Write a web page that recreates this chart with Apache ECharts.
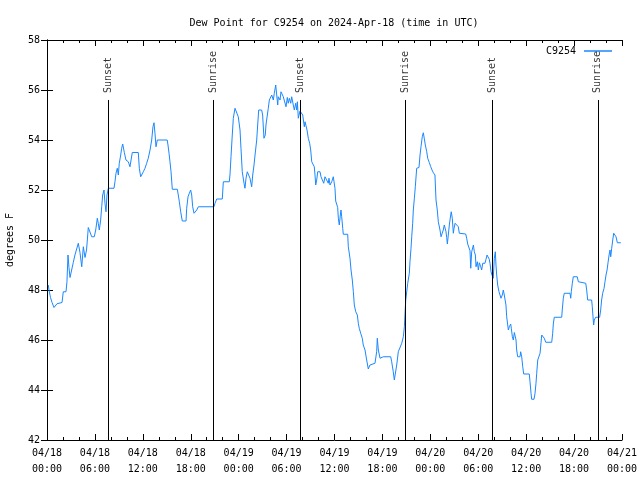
<!DOCTYPE html>
<html>
<head>
<meta charset="utf-8">
<script src="https://cdn.jsdelivr.net/npm/echarts@6/dist/echarts.min.js"></script>
<style>html,body{margin:0;padding:0;background:#fff}#c{width:640px;height:480px}</style>
</head>
<body>
<div id="c"></div>
<script>
// hours since 2024-04-18 00:00 UTC
const hours = [0.16,0.25,0.44,0.63,0.88,1.25,1.5,1.88,2.04,2.38,2.5,2.63,2.75,2.88,3.13,3.29,3.5,3.72,3.92,4.13,4.35,4.55,4.76,4.95,5.1,5.17,5.38,5.6,5.92,6.1,6.3,6.42,6.55,6.72,6.85,6.97,7.14,7.26,7.39,7.51,7.68,8.39,8.51,8.64,8.8,8.93,9.05,9.23,9.35,9.48,9.68,9.89,10.18,10.39,10.52,10.68,11.43,11.56,11.73,11.93,12.06,12.27,12.48,12.68,12.9,13.11,13.27,13.4,13.52,13.65,13.81,15.05,15.15,15.28,15.4,15.53,15.69,16.32,16.44,16.57,16.74,16.94,17.41,17.49,17.66,17.82,17.99,18.12,18.24,18.41,18.62,18.75,18.95,20.91,21.04,21.25,21.95,22.08,22.83,22.92,23.04,23.2,23.33,23.54,23.75,23.95,24.17,24.29,24.45,24.67,24.79,24.92,25.08,25.21,25.42,25.63,25.76,25.92,26.05,26.26,26.38,26.51,26.88,27.0,27.17,27.33,27.42,27.59,27.71,27.84,28.01,28.14,28.34,28.46,28.64,28.76,28.89,28.96,29.18,29.3,29.46,29.59,29.8,29.93,30.09,30.21,30.35,30.52,30.64,30.84,30.97,31.14,31.27,31.35,31.47,31.56,31.68,31.89,32.02,32.22,32.31,32.43,32.56,32.72,32.89,33.02,33.15,33.27,33.47,33.56,33.65,33.77,33.9,33.97,34.19,34.31,34.52,34.65,34.81,35.02,35.22,35.31,35.44,35.65,35.85,35.94,36.06,36.15,36.35,36.4,36.48,36.6,36.73,36.81,36.9,37.03,37.1,37.65,37.73,37.94,38.07,38.23,38.36,38.48,38.66,38.86,38.98,39.1,39.28,39.48,39.6,39.82,40.03,40.23,40.44,40.66,41.07,41.28,41.36,41.49,41.7,41.91,42.11,43.04,43.16,43.36,43.49,43.7,43.79,43.99,44.2,44.42,44.62,44.75,44.83,44.92,45.04,45.17,45.37,45.45,45.58,45.67,45.79,45.87,46.0,46.12,46.29,46.58,46.71,46.83,46.99,47.12,47.24,47.37,47.55,47.67,47.87,48.05,48.21,48.38,48.58,48.71,48.87,49.0,49.21,49.34,49.5,49.62,49.75,49.96,50.05,50.13,50.25,50.38,50.55,50.62,50.75,50.88,50.97,51.1,51.3,51.5,51.63,51.72,52.43,52.55,52.68,52.84,52.97,53.06,53.18,53.39,53.51,53.64,53.72,53.89,54.01,54.14,54.31,54.43,54.56,54.72,54.84,54.97,55.1,55.26,55.38,55.47,55.6,55.72,55.88,56.01,56.14,56.22,56.31,56.43,56.6,56.72,56.85,57.01,57.14,57.26,57.35,57.47,57.56,57.69,57.77,57.89,58.06,58.14,58.27,58.39,58.52,58.6,58.73,58.81,58.94,59.23,59.31,59.44,59.57,59.69,60.39,60.48,60.61,60.69,60.98,61.11,61.23,61.32,61.45,61.7,61.74,61.86,61.95,62.15,62.27,62.45,63.2,63.32,63.4,63.52,64.45,64.52,64.65,64.77,65.49,65.58,65.65,65.78,65.9,66.4,66.53,66.65,67.46,67.58,67.7,68.2,68.28,68.37,68.45,68.53,68.7,69.2,69.33,69.45,69.58,69.75,69.87,70.0,70.13,70.25,70.38,70.5,70.59,70.71,70.84,70.96,71.13,71.25,71.42,71.85];
const dewPoint = [48.2,48.0,47.7,47.5,47.3,47.45,47.5,47.5,47.93,47.93,48.33,49.4,48.9,48.5,48.5,49.1,49.4,49.4,49.87,49.5,48.93,49.73,49.3,49.6,50.2,50.5,50.5,50.13,50.13,50.4,50.87,50.67,50.4,50.8,51.33,51.8,52.0,51.47,51.13,51.8,52.07,52.07,52.33,52.67,52.87,52.6,53.07,53.4,53.67,53.84,53.5,53.2,53.13,52.93,52.87,53.5,53.5,52.87,52.53,52.53,52.73,52.87,53.07,53.27,53.6,54.0,54.53,54.69,54.27,53.73,54.0,54.0,53.8,53.47,53.13,52.73,52.03,52.03,51.8,51.53,51.13,50.76,50.76,51.27,51.73,51.87,52.0,51.8,51.33,51.07,51.07,51.2,51.33,51.33,51.47,51.64,51.64,52.33,52.33,52.64,53.33,54.2,54.87,55.27,55.2,54.93,54.4,53.67,52.73,52.27,52.07,52.47,52.73,52.8,52.47,52.13,52.6,53.0,53.4,54.0,54.6,55.2,55.2,55.0,54.07,54.2,54.6,55.0,55.27,55.6,55.53,55.8,55.6,55.87,56.2,56.27,55.4,55.73,55.6,55.93,55.87,55.73,55.67,55.33,55.7,55.47,55.67,55.47,55.73,55.4,55.2,55.47,55.2,55.53,54.87,55.0,55.16,55.1,55.0,54.53,54.73,54.73,54.4,54.07,53.87,53.6,53.13,53.1,52.93,52.6,52.2,52.4,52.73,52.8,52.73,52.53,52.47,52.27,52.53,52.53,52.27,52.47,52.2,52.33,52.53,52.33,52.07,51.56,51.5,51.3,50.87,50.6,51.0,51.2,50.93,50.47,50.23,50.23,49.73,49.27,48.8,48.4,47.93,47.4,47.13,47.0,46.67,46.47,46.27,46.07,45.8,45.6,45.2,44.84,45.0,45.07,45.07,45.53,46.07,45.6,45.27,45.2,45.33,45.33,45.13,44.73,44.4,44.33,45.0,45.53,45.6,45.87,46.13,46.53,47.07,47.6,47.67,48.27,48.67,49.13,49.67,50.13,50.67,51.2,51.67,52.13,52.87,52.9,53.4,53.73,54.13,54.29,54.07,53.8,53.53,53.27,53.1,52.93,52.8,52.69,52.6,51.6,51.2,50.73,50.4,50.13,50.2,50.4,50.6,50.33,50.1,49.84,50.2,50.6,51.0,51.13,50.87,50.27,50.47,50.67,50.69,50.53,50.27,50.24,50.24,50.07,49.84,49.76,49.57,48.87,49.53,49.8,49.53,49.4,48.93,49.13,48.8,49.09,48.93,48.8,49.07,49.13,49.07,49.23,49.4,49.33,49.23,49.07,48.73,48.6,48.47,49.27,49.53,49.0,48.6,48.2,47.93,47.87,47.67,47.8,48.0,47.8,47.73,47.4,46.93,46.6,46.4,46.53,46.64,46.47,46.13,46.0,46.3,46.33,46.0,45.6,45.33,45.33,45.53,45.33,44.93,44.64,44.64,44.33,43.87,43.63,43.63,43.87,44.27,44.67,45.2,45.2,45.47,45.89,46.2,46.2,46.07,45.91,45.91,46.27,46.64,46.91,46.91,47.2,47.67,47.87,47.87,47.67,47.93,48.27,48.53,48.53,48.33,48.27,48.27,48.0,47.6,47.6,47.33,46.93,46.6,46.8,46.91,46.91,47.2,47.6,47.87,48.07,48.33,48.6,48.8,49.09,49.4,49.6,49.33,49.67,50.0,50.27,50.2,50.13,49.89,49.89];

const eventHours = [7.72, 20.85, 31.7, 44.9, 55.75, 68.98];
const eventNames = ['Sunset', 'Sunrise', 'Sunset', 'Sunrise', 'Sunset', 'Sunrise'];
const eventTop = 55.6;

const xTickLabels = ['04/18\n00:00','04/18\n06:00','04/18\n12:00','04/18\n18:00','04/19\n00:00','04/19\n06:00','04/19\n12:00','04/19\n18:00','04/20\n00:00','04/20\n06:00','04/20\n12:00','04/20\n18:00','04/21\n00:00'];
const yTicks = [42,44,46,48,50,52,54,56,58];

const FONT = 'DejaVu Sans Mono';
const chart = echarts.init(document.getElementById('c'), null, {renderer: 'canvas'});

const axisCommon = {
  axisLine: {show: true, lineStyle: {color: '#000', width: 1}},
  axisTick: {show: true, inside: true, length: 6, lineStyle: {color: '#000'}},
  splitLine: {show: false}
};

const option = {
  animation: false,
  backgroundColor: '#fff',
  title: {
    text: 'Dew Point for C9254 on 2024-Apr-18 (time in UTC)',
    left: 329, top: 13, textAlign: 'center',
    textStyle: {fontFamily: FONT, fontSize: 10, fontWeight: 'normal', color: '#000'}
  },
  legend: {
    data: ['C9254'], right: 23, top: 41, align: 'right',
    icon: 'rect', itemWidth: 28, itemHeight: 1.5, itemGap: 4,
    textStyle: {fontFamily: FONT, fontSize: 10, color: '#000', padding: [0, 3, 0, 0]}
  },
  grid: {left: 47, right: 18, top: 40, bottom: 40, containLabel: false, outerBoundsMode: 'none'},
  xAxis: [
    Object.assign({}, axisCommon, {
      type: 'value', min: 0, max: 72, interval: 6,
      minorTick: {show: true, splitNumber: 3, length: 3, lineStyle: {color: '#000'}},
      axisLabel: {fontFamily: FONT, fontSize: 10, color: '#000', margin: 5, lineHeight: 16,
        formatter: v => xTickLabels[Math.round(v / 6)]}
    }),
    Object.assign({}, axisCommon, {
      type: 'value', min: 0, max: 72, interval: 6, position: 'top',
      minorTick: {show: true, splitNumber: 3, length: 3, lineStyle: {color: '#000'}},
      axisLabel: {show: false}
    })
  ],
  yAxis: [
    Object.assign({}, axisCommon, {
      type: 'value', min: yTicks[0], max: yTicks[yTicks.length - 1], interval: 2,
      name: 'degrees F', nameLocation: 'middle', nameGap: 32,
      nameTextStyle: {fontFamily: FONT, fontSize: 10, color: '#000'},
      axisLabel: {fontFamily: FONT, fontSize: 10, color: '#000', margin: 7}
    }),
    Object.assign({}, axisCommon, {
      type: 'value', min: yTicks[0], max: yTicks[yTicks.length - 1], interval: 2, position: 'right',
      axisLabel: {show: false}
    })
  ],
  series: [
    {
      name: 'C9254', type: 'line', xAxisIndex: 0, yAxisIndex: 0,
      data: hours.map((h, i) => [h, dewPoint[i]]),
      showSymbol: false, symbol: 'none',
      lineStyle: {color: '#1a88ff', width: 1},
      itemStyle: {color: '#1a88ff'},
      z: 3
    },
    {
      name: 'events', type: 'scatter', xAxisIndex: 0, yAxisIndex: 0,
      symbolSize: 0, silent: true,
      data: eventHours.map((h, i) => ({value: [h, eventTop], name: eventNames[i]})),
      label: {
        show: true, formatter: p => p.name, position: [0, -7],
        rotate: 90, align: 'left', verticalAlign: 'middle',
        fontFamily: FONT, fontSize: 10, color: '#000'
      },
      markLine: {
        silent: true, symbol: 'none', animation: false,
        lineStyle: {color: '#000', width: 1, type: 'solid'},
        label: {show: false},
        data: eventHours.map(h => [{coord: [h, yTicks[0]]}, {coord: [h, eventTop]}])
      },
      z: 4
    }
  ]
};
chart.setOption(option);
</script>
</body>
</html>
